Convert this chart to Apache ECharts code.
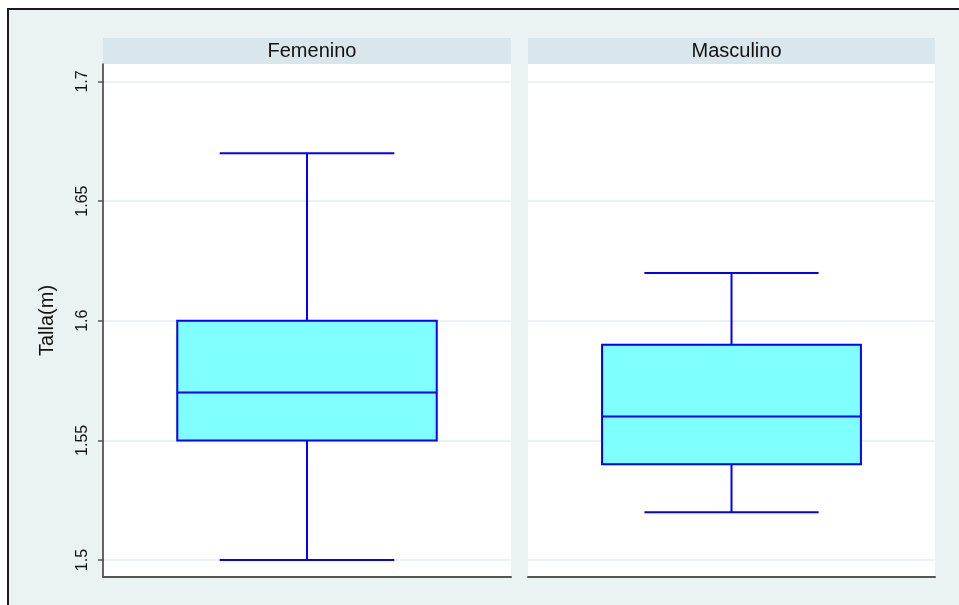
<!DOCTYPE html>
<html>
<head>
<meta charset="utf-8">
<script src="https://cdn.jsdelivr.net/npm/echarts@6/dist/echarts.min.js"></script>
<style>
  html, body { margin: 0; padding: 0; background: #fff; }
  #chart { width: 959px; height: 605px; }
</style>
</head>
<body>
<div id="chart"></div>
<script>
// datos de la figura
const groups = ['Femenino', 'Masculino']
const whiskerLow = [1.5, 1.52]
const q1 = [1.55, 1.54]
const median = [1.57, 1.56]
const q3 = [1.6, 1.59]
const whiskerHigh = [1.67, 1.62]
const yTicks = [1.5, 1.55, 1.6, 1.65, 1.7]
const yTitle = 'Talla(m)'

const font = 'Liberation Sans, Arial, Helvetica, sans-serif'
const panels = [
  { left: 103, right: 448 },
  { left: 528, right: 24 },
]

const myChart = echarts.init(document.getElementById('chart'), null, { renderer: 'canvas' })

// caja tipo Stata: caja, mediana y bigotes con tope mas corto
const renderBox = (params, api) => {
  const x = api.value(0)
  const lo = api.value(1)
  const a = api.value(2)
  const m = api.value(3)
  const b = api.value(4)
  const hi = api.value(5)
  const boxHalf = 0.318
  const capHalf = 0.214
  const pLo = api.coord([x, lo])
  const pHi = api.coord([x, hi])
  const boxL = api.coord([x - boxHalf, b])
  const boxR = api.coord([x + boxHalf, a])
  const capL = api.coord([x - capHalf, lo])[0]
  const capR = api.coord([x + capHalf, lo])[0]
  const mL = api.coord([x - boxHalf, m])
  const mR = api.coord([x + boxHalf, m])
  const line = { stroke: '#0000ff', lineWidth: 2 }
  return {
    type: 'group',
    children: [
      { type: 'line', shape: { x1: pLo[0], y1: pLo[1], x2: pLo[0], y2: boxR[1] }, style: line },
      { type: 'line', shape: { x1: pHi[0], y1: pHi[1], x2: pHi[0], y2: boxL[1] }, style: line },
      { type: 'line', shape: { x1: capL, y1: pLo[1], x2: capR, y2: pLo[1] }, style: line },
      { type: 'line', shape: { x1: capL, y1: pHi[1], x2: capR, y2: pHi[1] }, style: line },
      {
        type: 'rect',
        shape: { x: boxL[0], y: boxL[1], width: boxR[0] - boxL[0], height: boxR[1] - boxL[1] },
        style: { fill: '#80ffff', stroke: '#0000ff', lineWidth: 2 },
      },
      { type: 'line', shape: { x1: mL[0], y1: mL[1], x2: mR[0], y2: mR[1] }, style: line },
    ],
  }
}

const option = {
  backgroundColor: '#ffffff',
  animation: false,
  textStyle: { fontFamily: font },
  title: groups.map((g, i) => ({
    text: g,
    left: panels[i].left + (959 - panels[i].left - panels[i].right) / 2,
    top: 36,
    textAlign: 'center',
    textStyle: { fontFamily: font, fontSize: 20, fontWeight: 'normal', color: '#111' },
  })),
  graphic: [
    {
      type: 'rect',
      z: -100,
      shape: { x: 8, y: 9, width: 1000, height: 1000 },
      style: { fill: '#eaf2f3', stroke: '#1a1a1a', lineWidth: 2 },
    },
    ...panels.map(p => ({
      type: 'rect',
      z: -90,
      shape: { x: p.left, y: 38, width: 959 - p.left - p.right, height: 26 },
      style: { fill: '#d9e6eb' },
    })),
  ],
  grid: panels.map(p => ({
    left: p.left,
    right: p.right,
    top: 64,
    bottom: 28,
    show: true,
    backgroundColor: '#ffffff',
    borderWidth: 0,
  })),
  xAxis: panels.map((p, i) => ({
    type: 'value',
    gridIndex: i,
    min: 0,
    max: 1,
    axisLine: { show: true, onZero: false, lineStyle: { color: '#555', width: 2 } },
    axisTick: { show: false },
    axisLabel: { show: false },
    splitLine: { show: false },
  })),
  yAxis: panels.map((p, i) => ({
    type: 'value',
    gridIndex: i,
    min: 1.4929,
    max: 1.7073,
    name: i === 0 ? yTitle : '',
    nameLocation: 'middle',
    nameRotate: 90,
    nameGap: 46,
    nameTextStyle: { fontFamily: font, fontSize: 20, color: '#111' },
    axisLine: { show: i === 0, lineStyle: { color: '#333', width: 1.5 } },
    axisTick: {
      show: i === 0,
      length: 5,
      customValues: yTicks,
      lineStyle: { color: '#555', width: 1.5 },
    },
    axisLabel: {
      show: i === 0,
      rotate: 90,
      margin: 12,
      customValues: yTicks,
      fontFamily: font,
      fontSize: 16,
      color: '#111',
    },
    splitLine: { show: true, lineStyle: { color: '#e6eef0', width: 1.5 } },
  })),
  series: groups.map((g, i) => ({
    type: 'custom',
    name: g,
    xAxisIndex: i,
    yAxisIndex: i,
    renderItem: renderBox,
    encode: { x: 0, y: [1, 2, 3, 4, 5] },
    data: [[0.5, whiskerLow[i], q1[i], median[i], q3[i], whiskerHigh[i]]],
  })),
}

myChart.setOption(option)
</script>
</body>
</html>
